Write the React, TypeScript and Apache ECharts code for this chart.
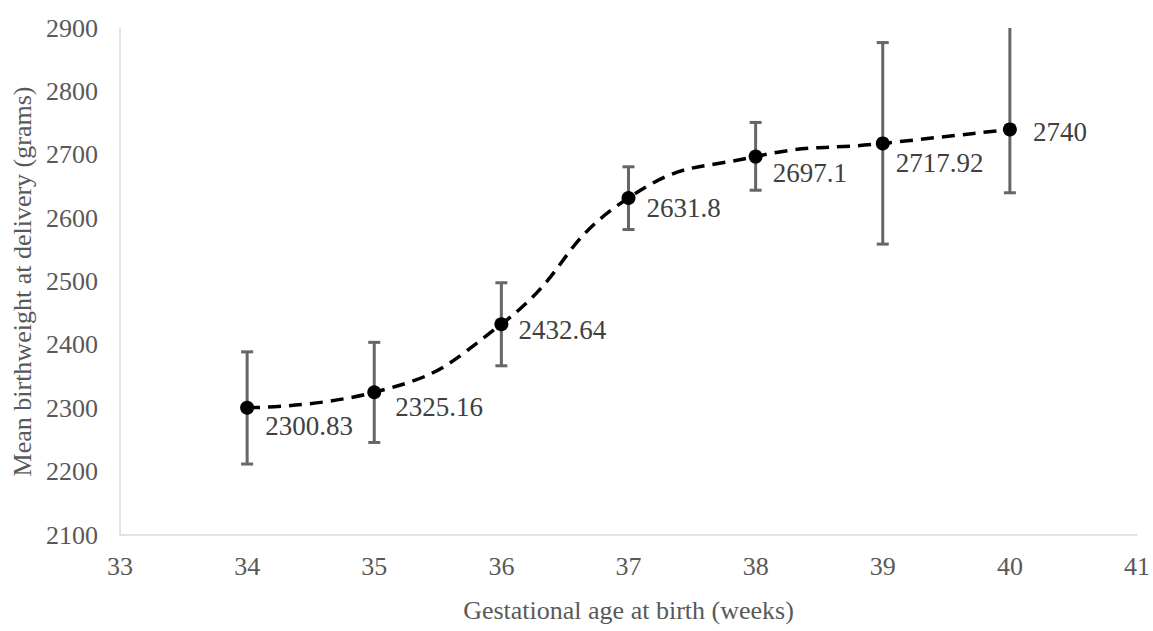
import React, { useEffect, useRef } from "react";
import * as echarts from "echarts";

// ---- data ----
const weeks = [34, 35, 36, 37, 38, 39, 40];
const meanWeight = [2300.83, 2325.16, 2432.64, 2631.8, 2697.1, 2717.92, 2740];
const errLower = [2212, 2246, 2367, 2582, 2644, 2559, 2640];
const errUpper = [2389, 2404, 2498, 2681, 2751, 2877, 2960];
const xTicks = { min: 33, max: 41, interval: 1 };
const yTicks = { min: 2100, max: 2900, interval: 100 };

// label placement tweaks (style only)
const labelOffsets: number[][] = [
  [1, 18],
  [4, 15],
  [0, 6],
  [1, 10],
  [0, 16],
  [-4, 20],
  [6, 3],
];

const FONT = "'Liberation Serif', 'Times New Roman', serif";

export default function App() {
  const ref = useRef<HTMLDivElement>(null);
  useEffect(() => {
    if (!ref.current) return;
    const chart = echarts.init(ref.current, null, { renderer: "svg" });
    const yMax = yTicks.max;
    const option: any = {
      animation: false,
      backgroundColor: "#ffffff",
      grid: { left: 120, right: 16, top: 28, bottom: 96, containLabel: false },
      xAxis: {
        type: "value",
        min: xTicks.min,
        max: xTicks.max,
        interval: xTicks.interval,
        name: "Gestational age at birth (weeks)",
        nameLocation: "middle",
        nameGap: 62,
        nameTextStyle: { fontFamily: FONT, fontSize: 26, color: "#595959" },
        axisLine: { show: true, lineStyle: { color: "#d9d9d9", width: 1.5 } },
        axisTick: { show: false },
        splitLine: { show: false },
        axisLabel: {
          fontFamily: FONT,
          fontSize: 26,
          color: "#595959",
          margin: 18,
          formatter: (v: number) => String(v),
        },
      },
      yAxis: {
        type: "value",
        min: yTicks.min,
        max: yTicks.max,
        interval: yTicks.interval,
        name: "Mean birthweight at delivery (grams)",
        nameLocation: "middle",
        nameGap: 77,
        nameTextStyle: { fontFamily: FONT, fontSize: 26, color: "#595959" },
        axisLine: { show: true, lineStyle: { color: "#d9d9d9", width: 1.5 } },
        axisTick: { show: false },
        splitLine: { show: false },
        axisLabel: {
          fontFamily: FONT,
          fontSize: 26,
          color: "#595959",
          margin: 22,
          formatter: (v: number) => String(v),
        },
      },
      series: [
        {
          type: "custom",
          z: 1,
          data: weeks.map((w, i) => [w, errLower[i], errUpper[i]]),
          renderItem: (params: any, api: any) => {
            const x = api.value(0);
            const lo = api.value(1);
            const hi = api.value(2);
            const clipped = hi > yMax;
            const pLo = api.coord([x, lo]);
            const pHi = api.coord([x, Math.min(hi, yMax)]);
            const half = 6;
            const style = { stroke: "#666666", lineWidth: 3 };
            const children: any[] = [
              { type: "line", shape: { x1: pLo[0], y1: pLo[1], x2: pHi[0], y2: pHi[1] }, style },
              { type: "line", shape: { x1: pLo[0] - half, y1: pLo[1], x2: pLo[0] + half, y2: pLo[1] }, style },
            ];
            if (!clipped) {
              children.push({
                type: "line",
                shape: { x1: pHi[0] - half, y1: pHi[1], x2: pHi[0] + half, y2: pHi[1] },
                style,
              });
            }
            return { type: "group", children };
          },
        },
        {
          type: "line",
          z: 3,
          smooth: 0.5,
          data: weeks.map((w, i) => ({
            value: [w, meanWeight[i]],
            label: { offset: labelOffsets[i] },
          })),
          symbol: "circle",
          symbolSize: 14,
          itemStyle: { color: "#000000" },
          lineStyle: { color: "#000000", width: 3.5, type: [13, 8] },
          label: {
            show: true,
            position: "right",
            distance: 10,
            fontFamily: FONT,
            fontSize: 27,
            color: "#404040",
            formatter: (p: any) => String(p.value[1]),
          },
        },
      ],
    };
    chart.setOption(option);
    return () => chart.dispose();
  }, []);
  return (
    <div
      ref={ref}
      style={{ position: "fixed", left: 0, top: 0, width: 1153, height: 631, background: "#fff" }}
    />
  );
}
